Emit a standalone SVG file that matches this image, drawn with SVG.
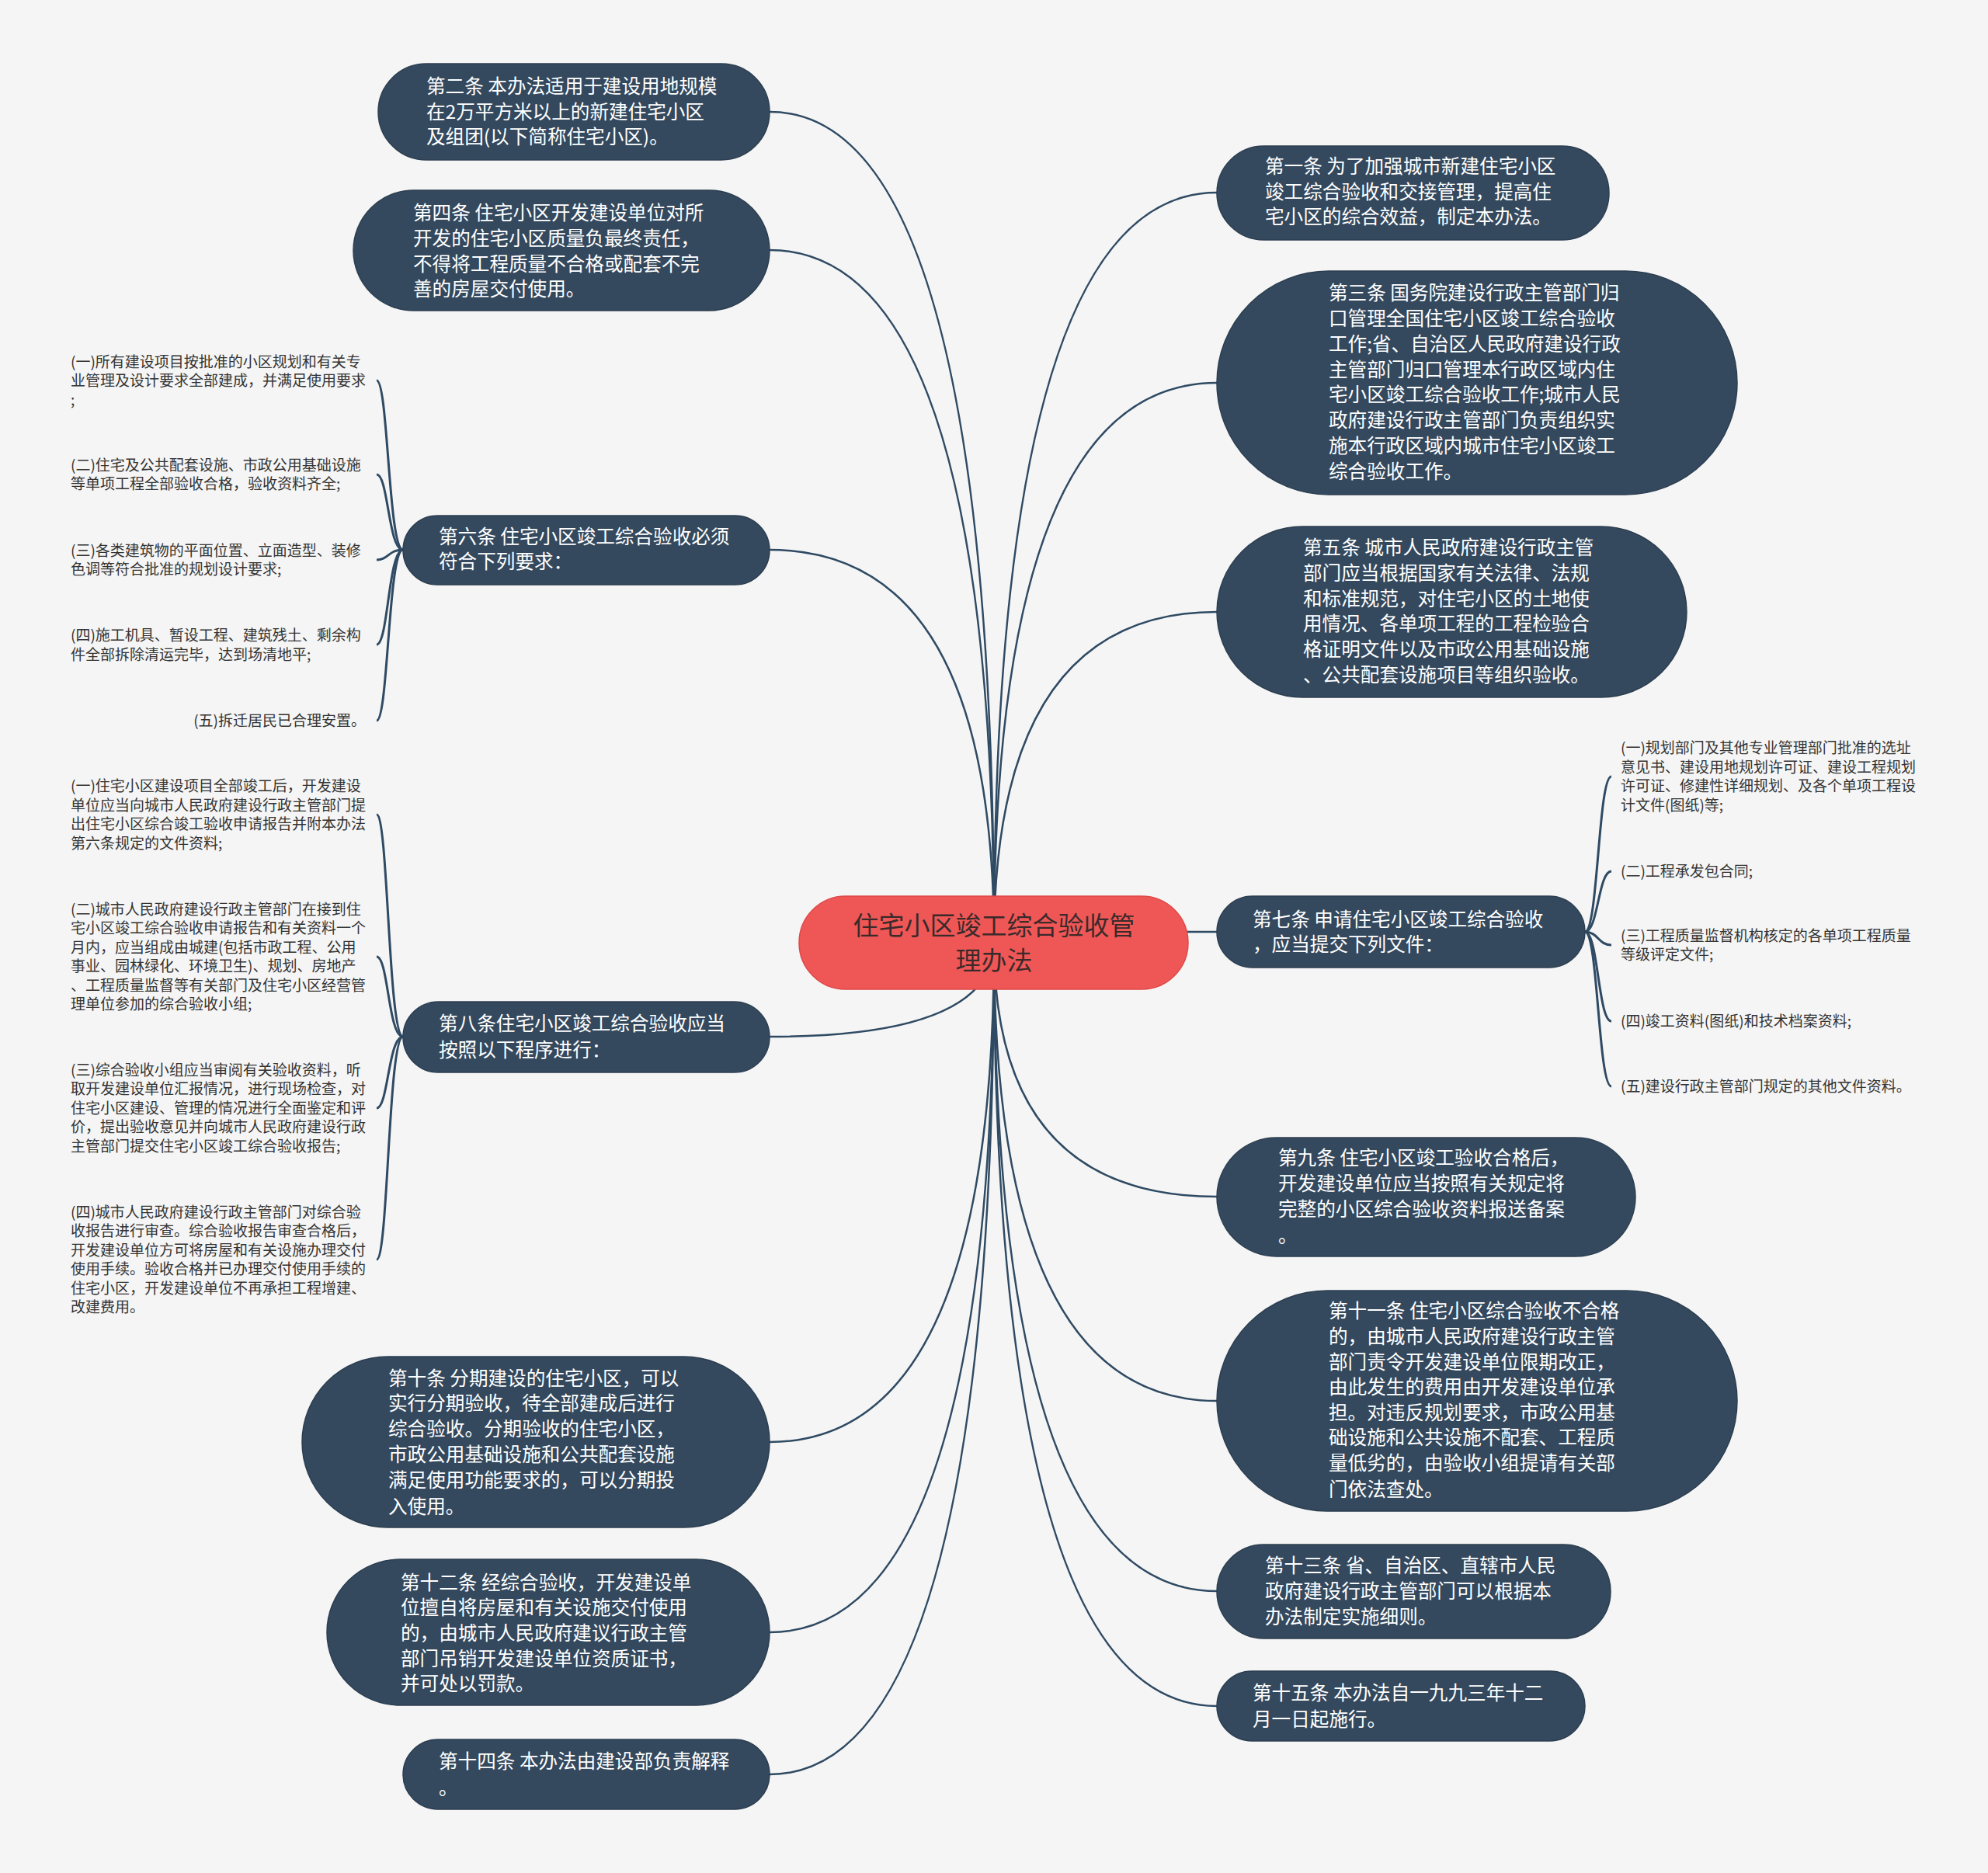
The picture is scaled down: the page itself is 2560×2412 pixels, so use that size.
<svg xmlns="http://www.w3.org/2000/svg" width="2560" height="2412" viewBox="0 0 2560 2412">
<style>
.bg{fill:#f5f5f5}
.node{fill:#34495e;stroke:#2c3e50;stroke-width:1.5}
.root{fill:#ef5757;stroke:#e04848;stroke-width:1.5}
.nt{font-family:"Noto Sans CJK SC","Noto Sans",sans-serif;font-size:24.6px;fill:#ffffff}
.rt{font-family:"Noto Sans CJK SC","Noto Sans",sans-serif;font-size:33px;fill:#3a2a2a}
.st{font-family:"Noto Sans CJK SC","Noto Sans",sans-serif;font-size:19px;fill:#333333}
.con{fill:none;stroke:#2f4a63;stroke-width:2.5}
.br{fill:none;stroke:#2f4a63;stroke-width:3}
</style>
<rect class="bg" x="0" y="0" width="2560" height="2412"/>
<g id="connectors">
<path class="con" d="M1280 1214 Q1280 144 991 144"/>
<path class="con" d="M1280 1214 Q1280 322 991 322"/>
<path class="con" d="M1280 1214 Q1280 708 991 708"/>
<path class="con" d="M1280 1214 Q1280 1335 991 1335"/>
<path class="con" d="M1280 1214 Q1280 1857 991 1857"/>
<path class="con" d="M1280 1214 Q1280 2102 991 2102"/>
<path class="con" d="M1280 1214 Q1280 2285 991 2285"/>
<path class="con" d="M1280 1214 Q1280 248 1567 248"/>
<path class="con" d="M1280 1214 Q1280 493 1567 493"/>
<path class="con" d="M1280 1214 Q1280 788 1567 788"/>
<path class="con" d="M1280 1214 Q1280 1200 1567 1200"/>
<path class="con" d="M1280 1214 Q1280 1541 1567 1541"/>
<path class="con" d="M1280 1214 Q1280 1804 1567 1804"/>
<path class="con" d="M1280 1214 Q1280 2049 1567 2049"/>
<path class="con" d="M1280 1214 Q1280 2197 1567 2197"/>
<path class="br" d="M519 708 C500 708 500 490 485 490"/>
<path class="br" d="M519 708 C500 708 500 611 485 611"/>
<path class="br" d="M519 708 C500 708 500 721 485 721"/>
<path class="br" d="M519 708 C500 708 500 830 485 830"/>
<path class="br" d="M519 708 C500 708 500 928 485 928"/>
<path class="br" d="M519 1335 C500 1335 500 1049 485 1049"/>
<path class="br" d="M519 1335 C500 1335 500 1232 485 1232"/>
<path class="br" d="M519 1335 C500 1335 500 1427 485 1427"/>
<path class="br" d="M519 1335 C500 1335 500 1622 485 1622"/>
<path class="br" d="M2041 1200 C2058 1200 2058 1000 2075 1000"/>
<path class="br" d="M2041 1200 C2058 1200 2058 1122 2075 1122"/>
<path class="br" d="M2041 1200 C2058 1200 2058 1217 2075 1217"/>
<path class="br" d="M2041 1200 C2058 1200 2058 1315 2075 1315"/>
<path class="br" d="M2041 1200 C2058 1200 2058 1399 2075 1399"/>
</g>
<g id="root">
<rect class="root" x="1029" y="1154" width="501" height="120" rx="60"/>
<text class="rt" x="1280" text-anchor="middle"><tspan x="1280" y="1204">住宅小区竣工综合验收管</tspan><tspan x="1280" y="1249">理办法</tspan></text>
</g>
<g id="n2">
<rect class="node" x="487" y="82" width="504" height="124" rx="62"/>
<text class="nt"><tspan x="549" y="120">第二条 本办法适用于建设用地规模</tspan><tspan x="549" y="153">在2万平方米以上的新建住宅小区</tspan><tspan x="549" y="185">及组团(以下简称住宅小区)。</tspan></text>
</g>
<g id="n4">
<rect class="node" x="455" y="245" width="536" height="155" rx="77.5"/>
<text class="nt"><tspan x="532" y="283">第四条 住宅小区开发建设单位对所</tspan><tspan x="532" y="316">开发的住宅小区质量负最终责任，</tspan><tspan x="532" y="349">不得将工程质量不合格或配套不完</tspan><tspan x="532" y="381">善的房屋交付使用。</tspan></text>
</g>
<g id="n6">
<rect class="node" x="519" y="664" width="472" height="89" rx="44.5"/>
<text class="nt"><tspan x="565" y="700">第六条 住宅小区竣工综合验收必须</tspan><tspan x="565" y="732">符合下列要求：</tspan></text>
</g>
<g id="n6-items">
<text class="st"><tspan x="91" y="473">(一)所有建设项目按批准的小区规划和有关专</tspan><tspan x="91" y="497">业管理及设计要求全部建成，并满足使用要求</tspan><tspan x="91" y="522">;</tspan></text>
<text class="st"><tspan x="91" y="606">(二)住宅及公共配套设施、市政公用基础设施</tspan><tspan x="91" y="630">等单项工程全部验收合格，验收资料齐全;</tspan></text>
<text class="st"><tspan x="91" y="716">(三)各类建筑物的平面位置、立面造型、装修</tspan><tspan x="91" y="740">色调等符合批准的规划设计要求;</tspan></text>
<text class="st"><tspan x="91" y="825">(四)施工机具、暂设工程、建筑残土、剩余构</tspan><tspan x="91" y="850">件全部拆除清运完毕，达到场清地平;</tspan></text>
<text class="st" x="471" y="935" text-anchor="end">(五)拆迁居民已合理安置。</text>
</g>
<g id="n8">
<rect class="node" x="519" y="1290" width="472" height="91" rx="45.5"/>
<text class="nt"><tspan x="565" y="1327">第八条住宅小区竣工综合验收应当</tspan><tspan x="565" y="1361">按照以下程序进行：</tspan></text>
</g>
<g id="n8-items">
<text class="st"><tspan x="91" y="1019">(一)住宅小区建设项目全部竣工后，开发建设</tspan><tspan x="91" y="1044">单位应当向城市人民政府建设行政主管部门提</tspan><tspan x="91" y="1068">出住宅小区综合竣工验收申请报告并附本办法</tspan><tspan x="91" y="1093">第六条规定的文件资料;</tspan></text>
<text class="st"><tspan x="91" y="1178">(二)城市人民政府建设行政主管部门在接到住</tspan><tspan x="91" y="1202">宅小区竣工综合验收申请报告和有关资料一个</tspan><tspan x="91" y="1227">月内，应当组成由城建(包括市政工程、公用</tspan><tspan x="91" y="1251">事业、园林绿化、环境卫生)、规划、房地产</tspan><tspan x="91" y="1276">、工程质量监督等有关部门及住宅小区经营管</tspan><tspan x="91" y="1300">理单位参加的综合验收小组;</tspan></text>
<text class="st"><tspan x="91" y="1385">(三)综合验收小组应当审阅有关验收资料，听</tspan><tspan x="91" y="1409">取开发建设单位汇报情况，进行现场检查，对</tspan><tspan x="91" y="1434">住宅小区建设、管理的情况进行全面鉴定和评</tspan><tspan x="91" y="1458">价，提出验收意见并向城市人民政府建设行政</tspan><tspan x="91" y="1483">主管部门提交住宅小区竣工综合验收报告;</tspan></text>
<text class="st"><tspan x="91" y="1568">(四)城市人民政府建设行政主管部门对综合验</tspan><tspan x="91" y="1592">收报告进行审查。综合验收报告审查合格后，</tspan><tspan x="91" y="1617">开发建设单位方可将房屋和有关设施办理交付</tspan><tspan x="91" y="1641">使用手续。验收合格并已办理交付使用手续的</tspan><tspan x="91" y="1666">住宅小区，开发建设单位不再承担工程增建、</tspan><tspan x="91" y="1690">改建费用。</tspan></text>
</g>
<g id="n10">
<rect class="node" x="389" y="1747" width="602" height="220" rx="110"/>
<text class="nt"><tspan x="500" y="1784">第十条 分期建设的住宅小区，可以</tspan><tspan x="500" y="1816">实行分期验收，待全部建成后进行</tspan><tspan x="500" y="1849">综合验收。分期验收的住宅小区，</tspan><tspan x="500" y="1882">市政公用基础设施和公共配套设施</tspan><tspan x="500" y="1915">满足使用功能要求的，可以分期投</tspan><tspan x="500" y="1949">入使用。</tspan></text>
</g>
<g id="n12">
<rect class="node" x="421" y="2008" width="570" height="188" rx="94"/>
<text class="nt"><tspan x="516" y="2047">第十二条 经综合验收，开发建设单</tspan><tspan x="516" y="2079">位擅自将房屋和有关设施交付使用</tspan><tspan x="516" y="2112">的，由城市人民政府建议行政主管</tspan><tspan x="516" y="2145">部门吊销开发建设单位资质证书，</tspan><tspan x="516" y="2177">并可处以罚款。</tspan></text>
</g>
<g id="n14">
<rect class="node" x="519" y="2240" width="472" height="90" rx="45"/>
<text class="nt"><tspan x="565" y="2277">第十四条 本办法由建设部负责解释</tspan><tspan x="565" y="2311">。</tspan></text>
</g>
<g id="n1">
<rect class="node" x="1567" y="188" width="505" height="121" rx="60.5"/>
<text class="nt"><tspan x="1629" y="223">第一条 为了加强城市新建住宅小区</tspan><tspan x="1629" y="256">竣工综合验收和交接管理，提高住</tspan><tspan x="1629" y="288">宅小区的综合效益，制定本办法。</tspan></text>
</g>
<g id="n3">
<rect class="node" x="1567" y="349" width="670" height="288" rx="144"/>
<text class="nt"><tspan x="1711" y="386">第三条 国务院建设行政主管部门归</tspan><tspan x="1711" y="419">口管理全国住宅小区竣工综合验收</tspan><tspan x="1711" y="452">工作;省、自治区人民政府建设行政</tspan><tspan x="1711" y="485">主管部门归口管理本行政区域内住</tspan><tspan x="1711" y="517">宅小区竣工综合验收工作;城市人民</tspan><tspan x="1711" y="550">政府建设行政主管部门负责组织实</tspan><tspan x="1711" y="583">施本行政区域内城市住宅小区竣工</tspan><tspan x="1711" y="616">综合验收工作。</tspan></text>
</g>
<g id="n5">
<rect class="node" x="1567" y="678" width="605" height="220" rx="110"/>
<text class="nt"><tspan x="1678" y="714">第五条 城市人民政府建设行政主管</tspan><tspan x="1678" y="747">部门应当根据国家有关法律、法规</tspan><tspan x="1678" y="780">和标准规范，对住宅小区的土地使</tspan><tspan x="1678" y="812">用情况、各单项工程的工程检验合</tspan><tspan x="1678" y="845">格证明文件以及市政公用基础设施</tspan><tspan x="1678" y="878">、公共配套设施项目等组织验收。</tspan></text>
</g>
<g id="n7">
<rect class="node" x="1567" y="1154" width="474" height="92" rx="46"/>
<text class="nt"><tspan x="1613" y="1193">第七条 申请住宅小区竣工综合验收</tspan><tspan x="1613" y="1225">，应当提交下列文件：</tspan></text>
</g>
<g id="n7-items">
<text class="st"><tspan x="2087" y="970">(一)规划部门及其他专业管理部门批准的选址</tspan><tspan x="2087" y="995">意见书、建设用地规划许可证、建设工程规划</tspan><tspan x="2087" y="1019">许可证、修建性详细规划、及各个单项工程设</tspan><tspan x="2087" y="1044">计文件(图纸)等;</tspan></text>
<text class="st" x="2087" y="1129">(二)工程承发包合同;</text>
<text class="st"><tspan x="2087" y="1212">(三)工程质量监督机构核定的各单项工程质量</tspan><tspan x="2087" y="1236">等级评定文件;</tspan></text>
<text class="st" x="2087" y="1322">(四)竣工资料(图纸)和技术档案资料;</text>
<text class="st" x="2087" y="1406">(五)建设行政主管部门规定的其他文件资料。</text>
</g>
<g id="n9">
<rect class="node" x="1567" y="1465" width="539" height="153" rx="76.5"/>
<text class="nt"><tspan x="1646" y="1500">第九条 住宅小区竣工验收合格后，</tspan><tspan x="1646" y="1533">开发建设单位应当按照有关规定将</tspan><tspan x="1646" y="1566">完整的小区综合验收资料报送备案</tspan><tspan x="1646" y="1600">。</tspan></text>
</g>
<g id="n11">
<rect class="node" x="1567" y="1662" width="670" height="284" rx="142"/>
<text class="nt"><tspan x="1711" y="1697">第十一条 住宅小区综合验收不合格</tspan><tspan x="1711" y="1730">的，由城市人民政府建设行政主管</tspan><tspan x="1711" y="1763">部门责令开发建设单位限期改正，</tspan><tspan x="1711" y="1795">由此发生的费用由开发建设单位承</tspan><tspan x="1711" y="1828">担。对违反规划要求，市政公用基</tspan><tspan x="1711" y="1860">础设施和公共设施不配套、工程质</tspan><tspan x="1711" y="1893">量低劣的，由验收小组提请有关部</tspan><tspan x="1711" y="1927">门依法查处。</tspan></text>
</g>
<g id="n13">
<rect class="node" x="1567" y="1989" width="507" height="121" rx="60.5"/>
<text class="nt"><tspan x="1629" y="2025">第十三条 省、自治区、直辖市人民</tspan><tspan x="1629" y="2058">政府建设行政主管部门可以根据本</tspan><tspan x="1629" y="2091">办法制定实施细则。</tspan></text>
</g>
<g id="n15">
<rect class="node" x="1567" y="2152" width="474" height="90" rx="45"/>
<text class="nt"><tspan x="1613" y="2189">第十五条 本办法自一九九三年十二</tspan><tspan x="1613" y="2223">月一日起施行。</tspan></text>
</g>
</svg>
